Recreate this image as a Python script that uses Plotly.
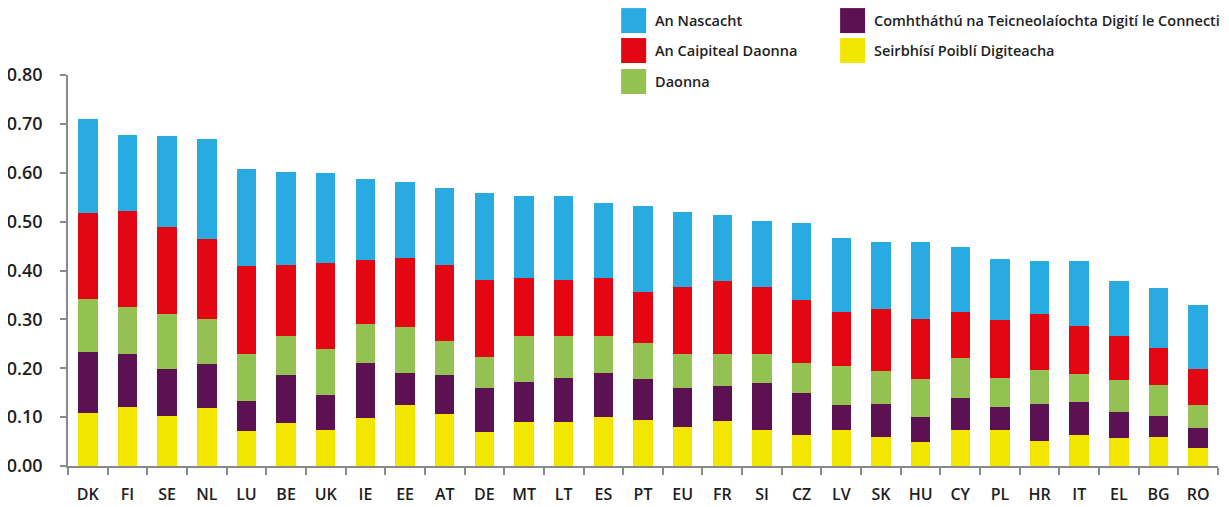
import plotly.graph_objects as go

countries = ["DK", "FI", "SE", "NL", "LU", "BE", "UK", "IE", "EE", "AT", "DE", "MT", "LT", "ES",
             "PT", "EU", "FR", "SI", "CZ", "LV", "SK", "HU", "CY", "PL", "HR", "IT", "EL", "BG", "RO"]

seirbhisi = [0.108, 0.120, 0.103, 0.118, 0.071, 0.087, 0.073, 0.099, 0.124, 0.106, 0.069, 0.091, 0.091, 0.101,
             0.095, 0.079, 0.093, 0.073, 0.063, 0.073, 0.059, 0.050, 0.073, 0.073, 0.052, 0.063, 0.057, 0.059, 0.036]
comhtathu = [0.126, 0.110, 0.096, 0.090, 0.061, 0.100, 0.073, 0.111, 0.067, 0.081, 0.090, 0.080, 0.090, 0.090,
             0.084, 0.080, 0.070, 0.096, 0.087, 0.051, 0.067, 0.051, 0.067, 0.047, 0.074, 0.067, 0.053, 0.044, 0.041]
daonna = [0.108, 0.096, 0.113, 0.092, 0.098, 0.078, 0.094, 0.081, 0.094, 0.068, 0.065, 0.094, 0.084, 0.074,
          0.072, 0.071, 0.067, 0.061, 0.060, 0.080, 0.069, 0.078, 0.080, 0.061, 0.071, 0.059, 0.065, 0.062, 0.047]
caipiteal = [0.176, 0.196, 0.176, 0.165, 0.180, 0.147, 0.176, 0.131, 0.141, 0.157, 0.157, 0.120, 0.116, 0.120,
             0.106, 0.137, 0.149, 0.137, 0.130, 0.112, 0.127, 0.121, 0.096, 0.117, 0.113, 0.098, 0.092, 0.077, 0.075]
nascacht = [0.192, 0.155, 0.187, 0.204, 0.198, 0.190, 0.184, 0.166, 0.155, 0.157, 0.178, 0.168, 0.172, 0.154,
            0.175, 0.153, 0.135, 0.135, 0.158, 0.151, 0.137, 0.159, 0.133, 0.126, 0.110, 0.133, 0.112, 0.123, 0.131]

y_ticks = [0.0, 0.1, 0.2, 0.3, 0.4, 0.5, 0.6, 0.7, 0.8]
y_labels = ["0.00", "0.10", "0.20", "0.30", "0.40", "0.50", "0.60", "0.70", "0.80"]

series = [
    ("Seirbhísí Poiblí Digiteacha", seirbhisi, "#F2E500"),
    ("Comhtháthú na Teicneolaíochta Digití le Connecti", comhtathu, "#5C1152"),
    ("Daonna", daonna, "#93C152"),
    ("An Caipiteal Daonna", caipiteal, "#E30613"),
    ("An Nascacht", nascacht, "#29ABE2"),
]

FONT = "Open Sans"
TXT = "#1e1e1e"

# The page body has an 8px default margin; the figure is sized so that it fits the window.
OFF = 8
W, H = 1229 - OFF, 507 - OFF
PL_L, PL_R, PL_T, PL_B = 67.7, 1218, 75, 466.5   # plot area in window pixels

fig = go.Figure()
for name, vals, col in series:
    fig.add_trace(go.Bar(x=countries, y=vals, name=name, marker=dict(color=col, line=dict(width=0)),
                         showlegend=False))

# legend drawn manually (two columns)
legend_items = [
    ("An Nascacht", "#29ABE2", 621, 20.5),
    ("An Caipiteal Daonna", "#E30613", 621, 50.5),
    ("Daonna", "#93C152", 621, 81.5),
    ("Comhtháthú na Teicneolaíochta Digití le Connecti", "#5C1152", 840, 20.5),
    ("Seirbhísí Poiblí Digiteacha", "#F2E500", 840, 50.5),
]


def px_x(p):
    return (p - PL_L) / (PL_R - PL_L)


def px_y(p):
    return (PL_B - p) / (PL_B - PL_T)


shapes = []
annotations = []
for name, col, px, py in legend_items:
    shapes.append(dict(type="rect", xref="paper", yref="paper",
                       x0=px_x(px), x1=px_x(px + 25),
                       y0=px_y(py + 12.5), y1=px_y(py - 12.5),
                       fillcolor=col, line=dict(width=0)))
    annotations.append(dict(text=name, xref="paper", yref="paper",
                            x=px_x(px + 32), y=px_y(py),
                            xanchor="left", yanchor="middle", showarrow=False,
                            font=dict(family=FONT, size=14.5, color=TXT, weight=600)))

fig.update_layout(
    barmode="stack",
    bargap=0.51,
    width=W, height=H,
    margin=dict(l=PL_L - OFF, r=W - (PL_R - OFF), t=PL_T - OFF, b=H - (PL_B - OFF), autoexpand=False),
    plot_bgcolor="white", paper_bgcolor="white",
    font=dict(family=FONT, color=TXT),
    shapes=shapes,
    annotations=annotations,
    xaxis=dict(showline=True, linecolor="#8a8a8a", linewidth=1.5, ticks="outside", tickson="boundaries",
               ticklen=7, tickcolor="#8a8a8a", tickwidth=1.5, showgrid=False,
               tickfont=dict(family=FONT, size=16, color=TXT, weight=600), ticklabelstandoff=13),
    yaxis=dict(range=[0, 0.8], tickvals=y_ticks, ticktext=y_labels, showline=True, linecolor="#8a8a8a",
               linewidth=1.5, ticks="outside", ticklen=6, tickcolor="#8a8a8a", tickwidth=1.5,
               showgrid=False, zeroline=False,
               tickfont=dict(family=FONT, size=18, color=TXT, weight=600), ticklabelstandoff=14),
)

fig.write_html("out.html")
